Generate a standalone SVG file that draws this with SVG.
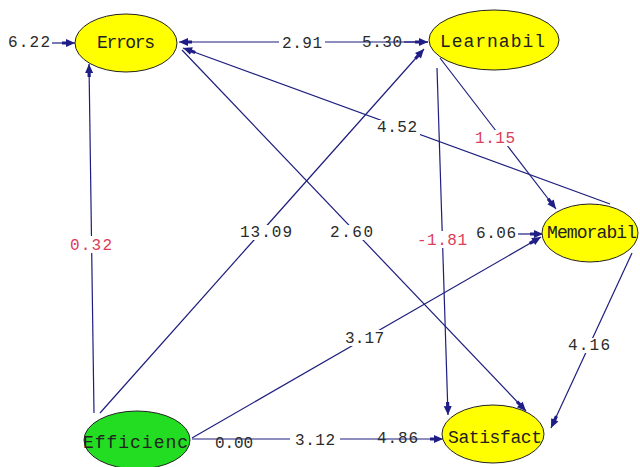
<svg xmlns="http://www.w3.org/2000/svg" width="640" height="467" viewBox="0 0 640 467">
<style>
.ln{fill:none;stroke:#1e1e7e;stroke-width:1.2;marker-end:url(#ah)}
.ln0{fill:none;stroke:#1e1e7e;stroke-width:1.2}
.bg{fill:#ffffff}
.num{font-family:"Liberation Mono","DejaVu Sans Mono",monospace;font-size:16px;fill:#2a2a2a}
.red{fill:#dc3c5a}
.nd{stroke:#222;stroke-width:1}
.yel{fill:#ffff00}
.grn{fill:#22dd22}
.nt{font-family:"Liberation Mono","DejaVu Sans Mono",monospace;font-size:18px;fill:#222}
</style>
<defs>
<marker id="ah" markerUnits="userSpaceOnUse" markerWidth="20" markerHeight="12" viewBox="-14 -6 16 12" refX="0" refY="0" orient="auto">
<path d="M-9,-4 L0,0 L-9,4 Z M-13,-1.6 H-8 V1.6 H-13 Z" fill="#1e1e86"/>
</marker>
</defs>
<rect width="640" height="467" fill="#ffffff"/>
<g id="connectors">
<path class="ln" d="M52,43 L75,43"/>
<path class="ln" d="M428,42 L179,42"/>
<path class="ln" d="M404,42 L428,42"/>
<path class="ln" d="M94,413 L89,64"/>
<path class="ln" d="M100,413 L424,49"/>
<path class="ln" d="M182,50 L526,411"/>
<path class="ln" d="M610,204 L183,48"/>
<path class="ln" d="M440,58 L556,209"/>
<path class="ln" d="M437,68 L448,415"/>
<path class="ln" d="M632,253 L551,428"/>
<path class="ln" d="M192,438 L541,237"/>
<path class="ln" d="M518,234 L543,234"/>
<path class="ln" d="M192,439 L443,439"/>
</g>
<g id="labels">
<rect class="bg" x="279" y="35" width="46" height="15"/>
<rect class="bg" x="67" y="236" width="48" height="17"/>
<rect class="bg" x="237" y="225" width="58" height="15"/>
<rect class="bg" x="327" y="225" width="49" height="15"/>
<rect class="bg" x="374" y="120" width="46" height="15"/>
<rect class="bg" x="472" y="130" width="46" height="16"/>
<rect class="bg" x="414" y="231" width="56" height="17"/>
<rect class="bg" x="565" y="338" width="48" height="15"/>
<rect class="bg" x="342" y="330" width="44" height="16"/>
<rect class="bg" x="290" y="432" width="50" height="15"/>
<text class="num" x="8" y="47" textLength="42">6.22</text>
<text class="num" x="282" y="48" textLength="40">2.91</text>
<text class="num" x="362" y="47" textLength="40">5.30</text>
<text class="num red" x="70" y="250" textLength="42">0.32</text>
<text class="num" x="240" y="237" textLength="52">13.09</text>
<text class="num" x="330" y="237" textLength="43">2.60</text>
<text class="num" x="377" y="132" textLength="40">4.52</text>
<text class="num red" x="475" y="143" textLength="40">1.15</text>
<text class="num red" x="417" y="245" textLength="50">-1.81</text>
<text class="num" x="476" y="238" textLength="40">6.06</text>
<text class="num" x="345" y="343" textLength="39">3.17</text>
<text class="num" x="568" y="350" textLength="42">4.16</text>
<text class="num" x="215" y="448" textLength="38">0.00</text>
<text class="num" x="295" y="445" textLength="40">3.12</text>
<text class="num" x="377" y="443" textLength="41">4.86</text>
</g>
<g id="node-errors">
<ellipse class="nd yel" cx="126" cy="43" rx="51" ry="29"/>
<text class="nt" x="97" y="48" textLength="58">Errors</text>
</g>
<g id="node-learnabil">
<ellipse class="nd yel" cx="494" cy="40" rx="65" ry="30"/>
<text class="nt" x="440" y="47" textLength="105">Learnabil</text>
</g>
<g id="node-memorabil">
<ellipse class="nd yel" cx="590" cy="233" rx="48" ry="29"/>
<text class="nt" x="547" y="238" textLength="90">Memorabil</text>
</g>
<g id="node-efficienc">
<ellipse class="nd grn" cx="137" cy="440" rx="53" ry="29"/>
<text class="nt" x="83" y="448" textLength="105">Efficienc</text>
</g>
<g id="node-satisfact">
<ellipse class="nd yel" cx="493" cy="434" rx="51" ry="29"/>
<text class="nt" x="448" y="443" textLength="94">Satisfact</text>
</g>
</svg>
